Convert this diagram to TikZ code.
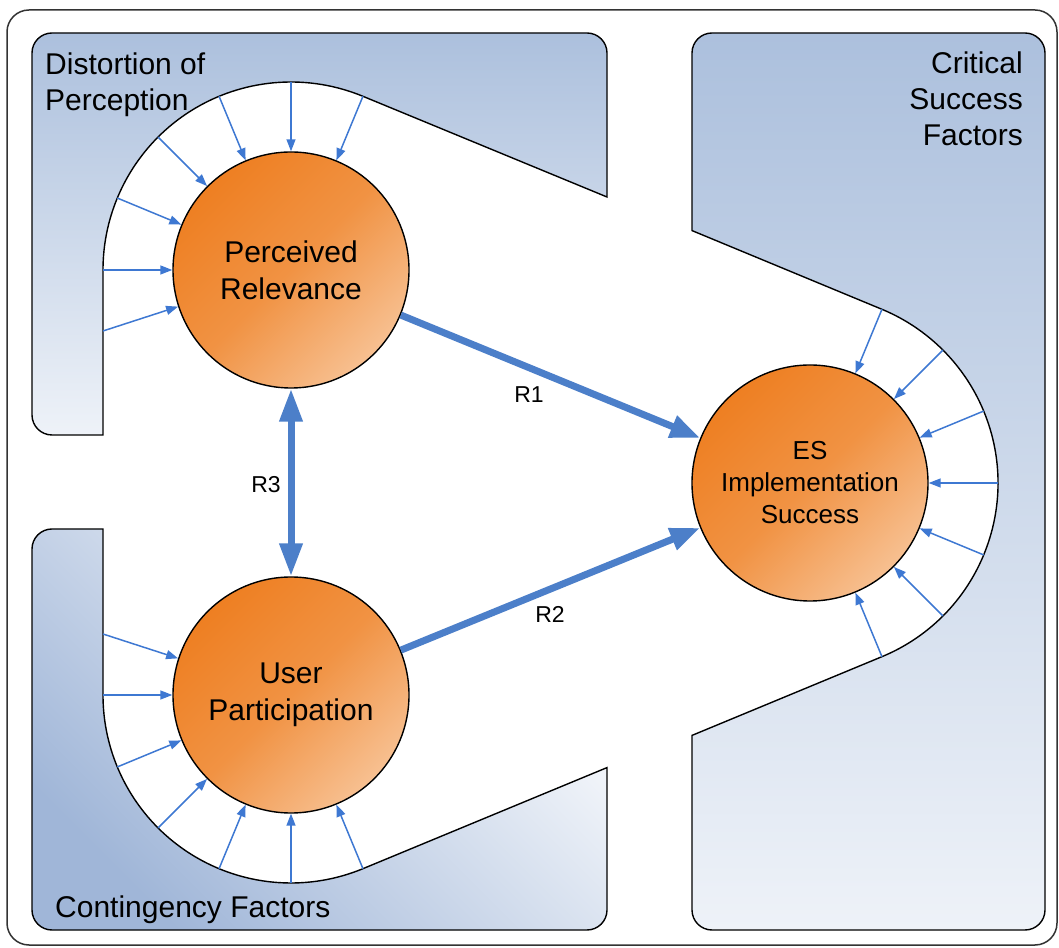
\documentclass[tikz,border=0pt]{standalone}
\usepackage{fontspec}
\setmainfont{Liberation Sans}
\usetikzlibrary{arrows.meta,calc}
\definecolor{panelDark}{RGB}{172,192,221}
\definecolor{panelDeep}{RGB}{160,182,216}
\definecolor{panelLight}{RGB}{238,242,248}
\definecolor{orDark}{RGB}{238,127,34}
\definecolor{orLight}{RGB}{247,192,145}
\definecolor{linkBlue}{RGB}{76,127,201}
\definecolor{feedBlue}{RGB}{62,120,210}
\begin{document}
\begin{tikzpicture}[x=1pt,y=1pt,
  panel/.style={draw=black,line width=1.4pt},
  factor/.style={circle,draw=black,line width=1.4pt,minimum size=236pt,inner sep=0pt,align=center,
    top color=orDark,bottom color=orLight,middle color=orDark!70!orLight,shading angle=45,
    font=\fontsize{30}{37}\selectfont},
  feed/.style={draw=feedBlue,line width=1.5pt,-{Triangle[length=12pt,width=9pt]}},
  link/.style={draw=linkBlue,line width=7pt,-{Triangle[length=30pt,width=22pt]}},
  rlabel/.style={font=\fontsize{23}{27}\selectfont},
  plabel/.style={inner sep=0pt,font=\fontsize{30}{36}\selectfont}]
\useasboundingbox (0,0) rectangle (1059,947);
\coordinate (cPR) at (291,677);
\coordinate (cUP) at (291,252);
\coordinate (cES) at (810,464);

\draw[line width=1.5pt,black!80,rounded corners=22pt] (7,937) rectangle (1057,2);

\draw[panel,top color=panelDark,bottom color=panelLight]
  (103,512) -- (103,677) arc[start angle=180,end angle=67.5,radius=188] -- (607,750)
  -- (607,894) arc[start angle=0,end angle=90,radius=20] -- (52,914)
  arc[start angle=90,end angle=180,radius=20] -- (32,532)
  arc[start angle=180,end angle=270,radius=20] -- cycle;
\draw[panel,top color=white,bottom color=panelDeep,shading angle=-45]
  (103,418) -- (103,252) arc[start angle=180,end angle=292.5,radius=188] -- (607,179.4)
  -- (607,37) arc[start angle=0,end angle=-90,radius=20] -- (52,17)
  arc[start angle=270,end angle=180,radius=20] -- (32,398)
  arc[start angle=180,end angle=90,radius=20] -- cycle;
\draw[panel,top color=panelDark,bottom color=panelLight]
  (692,716.4) -- (692,894) arc[start angle=180,end angle=90,radius=20] -- (1025,914)
  arc[start angle=90,end angle=0,radius=20] -- (1045,37)
  arc[start angle=0,end angle=-90,radius=20] -- (712,17)
  arc[start angle=270,end angle=180,radius=20] -- (692,211.6)
  -- ($(cES)+(-67.5:188)$) arc[start angle=-67.5,end angle=67.5,radius=188] -- cycle;

\node[plabel,align=left,anchor=north west] (distortion) at (45,894) {Distortion of\\Perception};
\node[plabel,align=right,anchor=north east] (critical) at (1023,895) {Critical\\Success\\Factors};
\node[plabel,anchor=base west] (contingency) at (55,30) {Contingency Factors};

\node[factor] (PR) at (cPR) {Perceived\\Relevance};
\node[factor] (UP) at (cUP) {User\\Participation};
\node[factor,font=\fontsize{26}{32}\selectfont] (ES) at (cES) {ES\\Implementation\\Success};

\foreach \a [count=\i] in {67.5,90,...,180} {
  \coordinate (pr\i) at ($(cPR)+(\a:188)$);
  \draw[feed] (pr\i) -- (PR);
}
\coordinate (pr7) at (103,616);
\draw[feed] (pr7) -- (PR);
\foreach \a [count=\i] in {180,202.5,...,292.5} {
  \coordinate (up\i) at ($(cUP)+(\a:188)$);
  \draw[feed] (up\i) -- (UP);
}
\coordinate (up7) at (103,313);
\draw[feed] (up7) -- (UP);
\foreach \a [count=\i] in {-67.5,-45,...,67.5} {
  \coordinate (es\i) at ($(cES)+(\a:188)$);
  \draw[feed] (es\i) -- (ES);
}

\draw[link] (PR) -- (ES);
\draw[link] (UP) -- (ES);
\draw[link,{Triangle[length=33pt,width=22pt]}-{Triangle[length=33pt,width=22pt]}] (PR) -- (UP);
\node[rlabel] (r1) at (529,552) {R1};
\node[rlabel] (r2) at (550,333) {R2};
\node[rlabel] (r3) at (266,462) {R3};
\end{tikzpicture}
\end{document}
